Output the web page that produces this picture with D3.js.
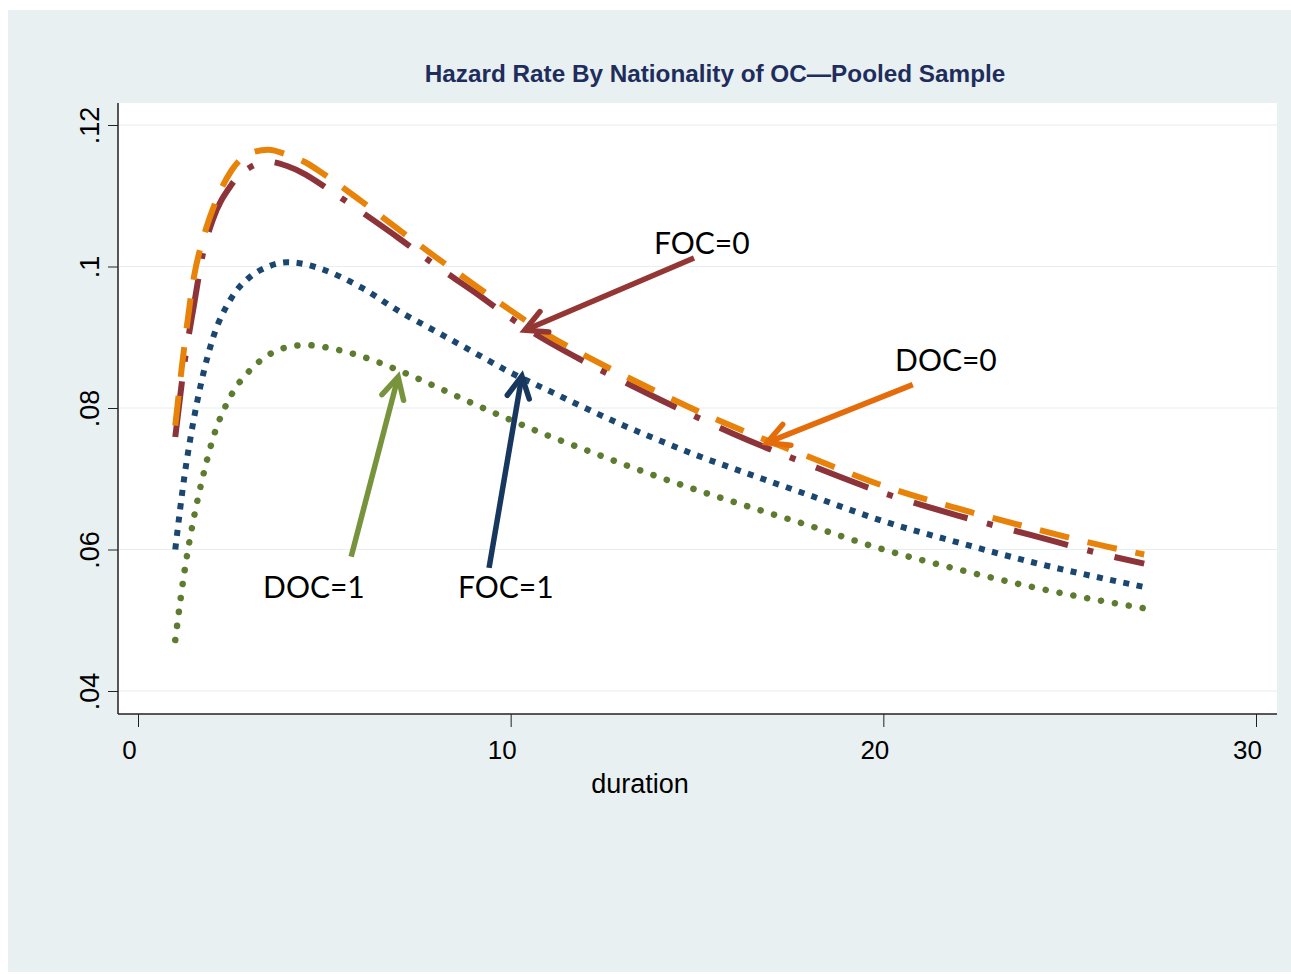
<!DOCTYPE html>
<html>
<head>
<meta charset="utf-8">
<script src="https://cdn.jsdelivr.net/npm/d3@7"></script>
<style>
  body { margin: 0; background: #ffffff; }
</style>
</head>
<body>
<div id="chart"></div>
<script>
// Hazard rate by duration
const durations = [1, 1.25, 1.5, 1.75, 2, 2.5, 3, 3.5, 4, 4.5, 5, 6, 7, 8, 9, 10, 11, 12, 13, 14, 15, 16, 18, 20, 22, 24, 26, 27];
const doc0 = [0.0775, 0.0890, 0.0985, 0.1040, 0.1080, 0.1135, 0.1160, 0.1165, 0.1158, 0.1147, 0.1130, 0.1092, 0.1052, 0.1013, 0.0975, 0.0938, 0.0903, 0.0874, 0.0847, 0.0821, 0.0796, 0.0773, 0.0731, 0.0690, 0.0658, 0.0630, 0.0604, 0.0593];
const foc0 = [0.0759, 0.0865, 0.0945, 0.1020, 0.1065, 0.1115, 0.1140, 0.1148, 0.1142, 0.1130, 0.1113, 0.1077, 0.1040, 0.1001, 0.0965, 0.0927, 0.0894, 0.0865, 0.0838, 0.0812, 0.0787, 0.0763, 0.0720, 0.0680, 0.0648, 0.0620, 0.0592, 0.0580];
const foc1 = [0.0600, 0.0705, 0.0785, 0.0848, 0.0897, 0.0955, 0.0985, 0.1000, 0.1006, 0.1003, 0.0995, 0.0970, 0.0937, 0.0908, 0.0879, 0.0850, 0.0825, 0.0800, 0.0776, 0.0754, 0.0733, 0.0714, 0.0677, 0.0640, 0.0610, 0.0582, 0.0558, 0.0547];
const doc1 = [0.0472, 0.0570, 0.0645, 0.0705, 0.0755, 0.0818, 0.0853, 0.0875, 0.0886, 0.0889, 0.0886, 0.0873, 0.0853, 0.0830, 0.0806, 0.0783, 0.0761, 0.0741, 0.0721, 0.0702, 0.0684, 0.0667, 0.0634, 0.0600, 0.0572, 0.0547, 0.0526, 0.0517];

const xTicks = [0, 10, 20, 30];
const yTicks = [0.04, 0.06, 0.08, 0.1, 0.12];
const yTickLabels = [".04", ".06", ".08", ".1", ".12"];

// annotation labels and arrows (data coordinates)
const noteLabels = ["FOC=0", "DOC=0", "DOC=1", "FOC=1"];
const noteTextAt = [[15.13, 0.1033], [21.68, 0.0867], [4.72, 0.0547], [9.87, 0.0547]];
const noteFrom = [[14.92, 0.1012], [20.79, 0.0833], [5.72, 0.0590], [9.42, 0.0574]];
const noteTo = [[10.38, 0.0910], [16.88, 0.0751], [6.98, 0.0844], [10.30, 0.0845]];

const width = 1291, height = 974;
const plot = { left: 118, right: 1277, top: 103, bottom: 714 };

const svg = d3.select("#chart")
    .append("svg")
    .attr("width", width)
    .attr("height", height);

// outer background
svg.append("rect")
    .attr("x", 8).attr("y", 10)
    .attr("width", width - 8).attr("height", height - 12)
    .attr("fill", "#e8f0f2");

// plot region
svg.append("rect")
    .attr("x", plot.left).attr("y", plot.top)
    .attr("width", plot.right - plot.left).attr("height", plot.bottom - plot.top)
    .attr("fill", "#ffffff");

const x = d3.scaleLinear().domain([0, 30]).range([138, 1256]);
const y = d3.scaleLinear().domain([0.04, 0.12]).range([691, 125]);

// gridlines
svg.append("g")
    .selectAll("line")
    .data(yTicks)
    .enter().append("line")
    .attr("x1", plot.left + 1)
    .attr("x2", plot.right)
    .attr("y1", d => y(d))
    .attr("y2", d => y(d))
    .attr("stroke", "#e6eef0")
    .attr("stroke-width", 1.2);

// series
const series = [
    { name: "FOC=0", values: foc0, color: "#8d343b", width: 6, dash: "56,20,6,22", cap: "butt" },
    { name: "DOC=0", values: doc0, color: "#e8830a", width: 6, dash: "30,19", cap: "butt" },
    { name: "FOC=1", values: foc1, color: "#1a4670", width: 6, dash: "6,7.5", cap: "butt" },
    { name: "DOC=1", values: doc1, color: "#5e7c30", width: 6.5, dash: "0.1,14", cap: "round" }
];

const line = d3.line()
    .x((d, i) => x(durations[i]))
    .y(d => y(d))
    .curve(d3.curveMonotoneX);

svg.append("g")
    .selectAll("path")
    .data(series)
    .enter().append("path")
    .attr("d", d => line(d.values))
    .attr("fill", "none")
    .attr("stroke", d => d.color)
    .attr("stroke-width", d => d.width)
    .attr("stroke-dasharray", d => d.dash)
    .attr("stroke-linecap", d => d.cap);

// axes
const yAxis = svg.append("g")
    .attr("transform", `translate(${plot.left},0)`)
    .call(d3.axisLeft(y).tickValues(yTicks).tickFormat((d, i) => yTickLabels[i]).tickSize(10));
yAxis.select(".domain").attr("d", `M0,${plot.top}V${plot.bottom}`).attr("stroke", "#222").attr("stroke-width", 1.5);
yAxis.selectAll(".tick line").attr("stroke", "#222");
yAxis.selectAll(".tick text")
    .attr("transform", "rotate(-90)")
    .attr("x", 0)
    .attr("y", -19)
    .attr("dy", 0)
    .attr("text-anchor", "middle")
    .style("font-family", "Liberation Sans, Arial, sans-serif")
    .style("font-size", "27px")
    .attr("fill", "#000");

const xAxis = svg.append("g")
    .attr("transform", `translate(0,${plot.bottom})`)
    .call(d3.axisBottom(x).tickValues(xTicks).tickSize(13).tickPadding(14));
xAxis.select(".domain").attr("d", `M${plot.left},0H${plot.right}`).attr("stroke", "#222").attr("stroke-width", 1.5);
xAxis.selectAll(".tick line").attr("stroke", "#222");
xAxis.selectAll(".tick text")
    .attr("dx", -9)
    .style("font-family", "Liberation Sans, Arial, sans-serif")
    .style("font-size", "26px")
    .attr("fill", "#000");

// x-axis label
svg.append("text")
    .attr("x", 640)
    .attr("y", 793)
    .attr("text-anchor", "middle")
    .style("font-family", "Liberation Sans, Arial, sans-serif")
    .style("font-size", "27px")
    .text("duration");

// title
svg.append("text")
    .attr("x", 715)
    .attr("y", 82)
    .attr("text-anchor", "middle")
    .style("font-family", "Liberation Sans, Arial, sans-serif")
    .style("font-size", "24.3px")
    .style("font-weight", "bold")
    .attr("fill", "#1e2d5c")
    .text("Hazard Rate By Nationality of OC\u2014Pooled Sample");

// annotation arrows
const arrowColors = ["#943634", "#e46c0a", "#77933c", "#17375e"];
const notes = noteLabels.map((label, i) => ({
    label, at: noteTextAt[i], from: noteFrom[i], to: noteTo[i], color: arrowColors[i]
}));

const arrows = svg.append("g");
notes.forEach(n => {
    const x1 = x(n.from[0]), y1 = y(n.from[1]);
    const x2 = x(n.to[0]), y2 = y(n.to[1]);
    const ang = Math.atan2(y1 - y2, x1 - x2);
    const head = 24, spread = Math.PI / 6.5;
    arrows.append("line")
        .attr("x1", x1).attr("y1", y1).attr("x2", x2).attr("y2", y2)
        .attr("stroke", n.color).attr("stroke-width", 5.5);
    arrows.append("path")
        .attr("d", `M${x2 + head * Math.cos(ang + spread)},${y2 + head * Math.sin(ang + spread)}L${x2},${y2}L${x2 + head * Math.cos(ang - spread)},${y2 + head * Math.sin(ang - spread)}`)
        .attr("fill", "none")
        .attr("stroke", n.color)
        .attr("stroke-width", 5.5)
        .attr("stroke-linecap", "round")
        .attr("stroke-linejoin", "miter");
});

// annotation labels
svg.append("g")
    .selectAll("text")
    .data(notes)
    .enter().append("text")
    .attr("x", d => x(d.at[0]))
    .attr("y", d => y(d.at[1]))
    .attr("dy", "0.36em")
    .attr("text-anchor", "middle")
    .style("font-family", "Lato, 'Open Sans', sans-serif")
    .style("font-size", "30px")
    .attr("fill", "#000")
    .text(d => d.label);
</script>
</body>
</html>
